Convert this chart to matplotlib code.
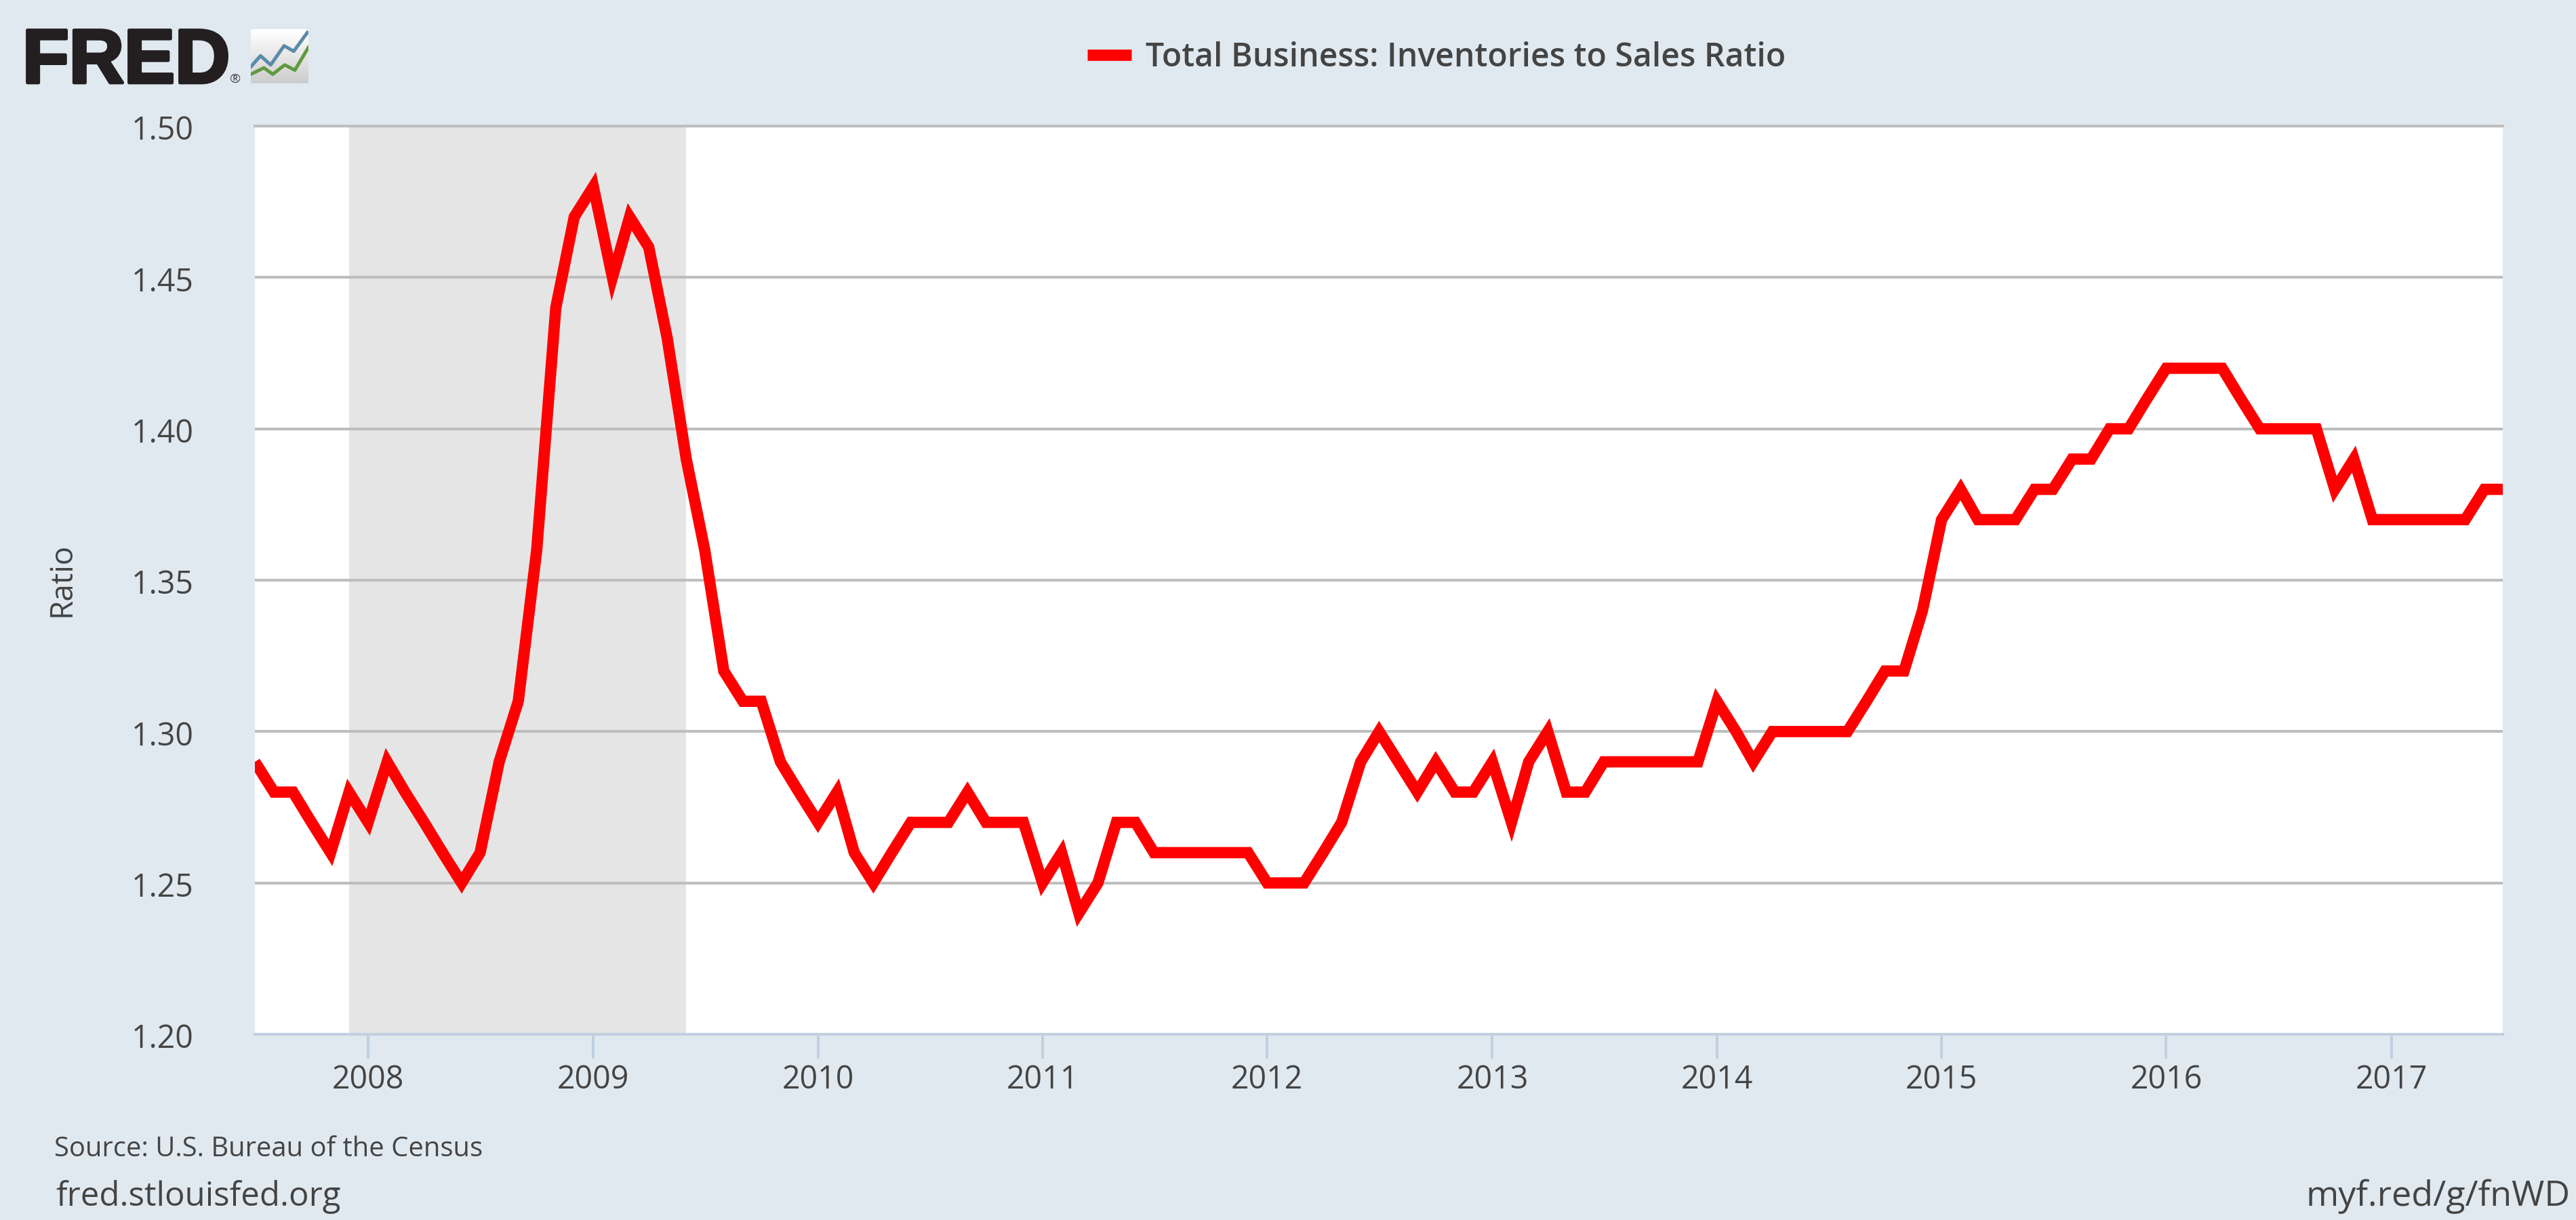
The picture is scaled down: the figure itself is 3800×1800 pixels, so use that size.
import numpy as np
import pandas as pd
import matplotlib
matplotlib.use('Agg')
import matplotlib.pyplot as plt
import matplotlib.dates as mdates
import matplotlib.patheffects as pe
from matplotlib.patches import FancyBboxPatch
from matplotlib.transforms import ScaledTranslation

# Total Business: Inventories to Sales Ratio, monthly from Jul 2007
ratio = [
    1.29, 1.28, 1.28, 1.27, 1.26, 1.28,
    1.27, 1.29, 1.28, 1.27, 1.26, 1.25, 1.26, 1.29, 1.31, 1.36, 1.44, 1.47,
    1.48, 1.45, 1.47, 1.46, 1.43, 1.39, 1.36, 1.32, 1.31, 1.31, 1.29, 1.28,
    1.27, 1.28, 1.26, 1.25, 1.26, 1.27, 1.27, 1.27, 1.28, 1.27, 1.27, 1.27,
    1.25, 1.26, 1.24, 1.25, 1.27, 1.27, 1.26, 1.26, 1.26, 1.26, 1.26, 1.26,
    1.25, 1.25, 1.25, 1.26, 1.27, 1.29, 1.30, 1.29, 1.28, 1.29, 1.28, 1.28,
    1.29, 1.27, 1.29, 1.30, 1.28, 1.28, 1.29, 1.29, 1.29, 1.29, 1.29, 1.29,
    1.31, 1.30, 1.29, 1.30, 1.30, 1.30, 1.30, 1.30, 1.31, 1.32, 1.32, 1.34,
    1.37, 1.38, 1.37, 1.37, 1.37, 1.38, 1.38, 1.39, 1.39, 1.40, 1.40, 1.41,
    1.42, 1.42, 1.42, 1.42, 1.41, 1.40, 1.40, 1.40, 1.40, 1.38, 1.39, 1.37,
    1.37, 1.37, 1.37, 1.37, 1.37, 1.38, 1.38,
]
dates = pd.date_range('2007-07-01', periods=len(ratio), freq='MS')

W, H = 3800, 1800
bg = '#e1e9f0'
txt = '#444444'
grid_col = '#bebebe'
axis_col = '#c0d0e0'
plt.rcParams['font.family'] = ['Open Sans', 'DejaVu Sans']

fig = plt.figure(figsize=(W / 100, H / 100), dpi=100, facecolor=bg)
ax = fig.add_axes([376 / W, 1 - 1526 / H, (3692 - 376) / W, (1526 - 186) / H], facecolor='white')

ax.axvspan(pd.Timestamp('2007-12-01'), pd.Timestamp('2009-06-01'), color='#e5e5e5', lw=0, zorder=0.4)
line, = ax.plot(dates, ratio, color='#ff0000', lw=12, solid_joinstyle='miter',
                solid_capstyle='butt', label='Total Business: Inventories to Sales Ratio', zorder=3)

ax.set_xlim(pd.Timestamp('2007-07-01'), pd.Timestamp('2017-07-01'))
ax.set_ylim(1.20, 1.50)
ax.set_yticks(np.arange(1.20, 1.51, 0.05))
ax.yaxis.set_major_formatter(matplotlib.ticker.FormatStrFormatter('%.2f'))
ax.xaxis.set_major_locator(mdates.YearLocator())
ax.xaxis.set_major_formatter(mdates.DateFormatter('%Y'))
ax.grid(axis='y', color=grid_col, lw=2.9)
ax.set_axisbelow(True)
for side in ['left', 'right']:
    ax.spines[side].set_visible(False)
ax.spines['top'].set_color(grid_col)
ax.spines['top'].set_linewidth(2.9)
ax.spines['bottom'].set_color(axis_col)
ax.spines['bottom'].set_linewidth(2.9)
ax.spines['bottom'].set_zorder(4)
ax.tick_params(axis='x', length=26, width=2.9, color=axis_col, labelcolor=txt, labelsize=33.5, pad=5.5)
ax.tick_params(axis='y', length=0, labelcolor=txt, labelsize=33.5, pad=65)
# y labels sit a little below their gridlines
for lab in ax.get_yticklabels():
    lab.set_transform(lab.get_transform() + ScaledTranslation(0, -2 / 100, fig.dpi_scale_trans))

fig.text(114 / W, 1 - 855 / H, 'Ratio', fontsize=33, color=txt, rotation=90, ha='right', va='center')

fig.legend(handles=[line], loc='center left', bbox_to_anchor=(1604 / W, 1 - 85 / H), frameon=False,
           handlelength=1.34, handletextpad=0.44, borderpad=0, borderaxespad=0,
           labelcolor=txt, prop={'size': 34.7, 'weight': 'semibold'})

fig.text(80 / W, 1 - 1706 / H, 'Source: U.S. Bureau of the Census', fontsize=28.8, color=txt, va='baseline')
fig.text(82 / W, 1 - 1779 / H, 'fred.stlouisfed.org', fontsize=35.5, color=txt, va='baseline')
fig.text(3791 / W, 1 - 1779 / H, 'myf.red/g/fnWD', fontsize=37.5, color=txt, ha='right', va='baseline')

# logo
fig.text(33 / W, 1 - 122 / H, 'FRED', fontsize=81, family='Liberation Sans', weight='bold', color='#231f20',
         va='baseline', path_effects=[pe.withStroke(linewidth=3.5, foreground='#231f20')])
fig.text(347 / W, 1 - 117 / H, '\u00ae', fontsize=14, color='#444444', ha='center', va='center')

icon = fig.add_axes([370 / W, 1 - 123 / H, 85 / W, 80 / H])
icon.axis('off')
grad = np.linspace(1, 0.8, 80)[:, None] * np.ones((80, 85))
grad = np.minimum(grad, np.linspace(1, 0.93, 85)[None, :] * np.linspace(1.1, 0.85, 80)[:, None])
im = icon.imshow(grad, cmap='gray', vmin=0, vmax=1, extent=(90, 345, 278, 40), aspect='auto')
clip = FancyBboxPatch((98, 48), 239, 222, boxstyle='round,pad=8', transform=icon.transData, fc='none', ec='none')
icon.add_patch(clip)
im.set_clip_path(clip)
icon.plot([90, 133, 178, 237, 280, 340], [205, 157, 197, 113, 137, 55], color='#5b8aa8', lw=3.6)
icon.plot([90, 148, 187, 240, 285, 345], [238, 210, 238, 197, 220, 120], color='#5f9a3f', lw=3.6)
icon.set_xlim(90, 345)
icon.set_ylim(278, 40)

fig.savefig('out.png', dpi=100, facecolor=fig.get_facecolor())
